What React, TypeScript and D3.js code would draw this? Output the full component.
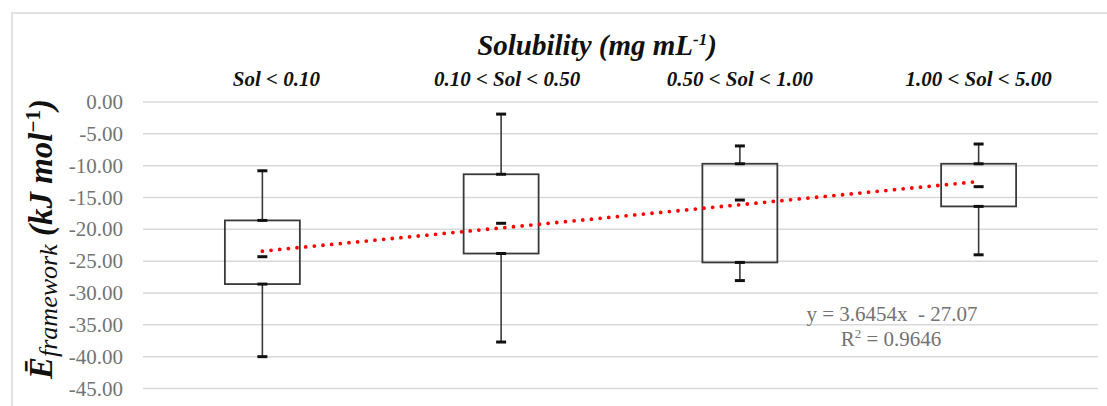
import React from "react";
import * as d3 from "d3";

const categories = ["Sol < 0.10", "0.10 < Sol < 0.50", "0.50 < Sol < 1.00", "1.00 < Sol < 5.00"];
const whiskerMax = [-10.8, -1.9, -6.9, -6.6];
const q3 = [-18.6, -11.35, -9.7, -9.7];
const meanVals = [-24.3, -19.05, -15.4, -13.3];
const q1 = [-28.6, -23.8, -25.2, -16.4];
const whiskerMin = [-40.0, -37.7, -28.05, -24.0];
const yTicks = [0, -5, -10, -15, -20, -25, -30, -35, -40, -45];
const trendSlope = 3.6454;
const trendIntercept = -27.07;
const eqLabel = "y = 3.6454x  - 27.07";
const r2Label = "= 0.9646";

const W = 1107;
const H = 406;
const plotLeft = 143;
const plotRight = 1098;
const yTop = 102;
const yBottom = 388.5;
const SERIF = "'Liberation Serif', 'Times New Roman', Times, serif";

export default function App() {
  const x = d3.scaleBand<string>().domain(categories).range([plotLeft, plotRight]).paddingInner(0).paddingOuter(0);
  const y = d3.scaleLinear().domain([-45, 0]).range([yBottom, yTop]);
  const bw = x.bandwidth();
  const boxW = bw * 0.314;
  const capW = 10;
  const cx = (c: string) => (x(c) as number) + bw / 2;

  const trendX = d3.scaleLinear().domain([1, categories.length]).range([cx(categories[0]), cx(categories[categories.length - 1])]);
  const trendLine = d3.line<number>().x((d) => trendX(d)).y((d) => y(trendSlope * d + trendIntercept));
  const trendPts = [1, categories.length];
  const fmt = (t: number) => d3.format(".2f")(t).replace("−", "-");

  const gray = "#737373";
  const dark = "#3a3a3a";

  return (
    <svg width={W} height={H} style={{ display: "block", position: "absolute", left: 0, top: 0 }}>
      <rect x={0} y={0} width={W} height={H} fill="#fff" />
      <rect x={12} y={13} width={W + 20} height={H + 20} fill="none" stroke="#d9d9d9" strokeWidth={1.5} />
      {/* title */}
      <text x={597} y={55} textAnchor="middle" fontFamily={SERIF} fontWeight="bold" fontStyle="italic" fontSize={29} fill="#111">
        Solubility (mg mL<tspan dy={-10} fontSize={17}>-1</tspan><tspan dy={10}>)</tspan>
      </text>
      {/* category labels */}
      {categories.map((c, i) => (
        <text key={c} x={cx(c)} dx={i === 0 ? 14 : i === 1 ? 6 : 0} y={86} textAnchor="middle" fontFamily={SERIF} fontWeight="bold" fontStyle="italic" fontSize={21} fill="#111">
          {c}
        </text>
      ))}
      {/* gridlines & ticks */}
      {yTicks.map((t) => (
        <g key={t}>
          <line x1={plotLeft} x2={plotRight} y1={y(t)} y2={y(t)} stroke="#d9d9d9" strokeWidth={1.5} />
          <text x={123} y={y(t) + 7} textAnchor="end" fontFamily={SERIF} fontSize={21} fill={gray}>
            {fmt(t)}
          </text>
        </g>
      ))}
      {/* y axis title */}
      <text transform={`translate(52, 379) rotate(-90)`} fontFamily={SERIF} fill="#111">
        <tspan fontWeight="bold" fontStyle="italic" fontSize={33}>Ē</tspan>
        <tspan fontStyle="italic" fontSize={26} dy={5}>framework</tspan>
        <tspan fontWeight="bold" fontStyle="italic" fontSize={33} dy={-5}> (kJ mol</tspan>
        <tspan fontWeight="bold" fontSize={21} dy={-12}>−1</tspan>
        <tspan fontWeight="bold" fontStyle="italic" fontSize={33} dy={12}>)</tspan>
      </text>
      {/* boxes */}
      {categories.map((c, i) => {
        const xc = cx(c);
        return (
          <g key={c}>
            <line x1={xc} x2={xc} y1={y(whiskerMax[i])} y2={y(q3[i])} stroke={dark} strokeWidth={1.6} />
            <line x1={xc} x2={xc} y1={y(q1[i])} y2={y(whiskerMin[i])} stroke={dark} strokeWidth={1.6} />
            <rect x={xc - boxW / 2} y={y(q3[i])} width={boxW} height={y(q1[i]) - y(q3[i])} fill="none" stroke={dark} strokeWidth={1.8} />
            {[whiskerMax[i], q3[i], meanVals[i], q1[i], whiskerMin[i]].map((v, k) => (
              <line key={k} x1={xc - capW / 2} x2={xc + capW / 2} y1={y(v)} y2={y(v)} stroke="#111" strokeWidth={3} />
            ))}
          </g>
        );
      })}
      {/* trendline */}
      <path d={trendLine(trendPts) as string} fill="none" stroke="#ff0000" strokeWidth={3.8} strokeLinecap="round" strokeDasharray="0 8.7" />
      {/* equation */}
      <text x={892} y={321} textAnchor="middle" fontFamily={SERIF} fontSize={21} fill={gray} style={{ whiteSpace: "pre" }}>
        {eqLabel}
      </text>
      <text x={891} y={346} textAnchor="middle" fontFamily={SERIF} fontSize={21} fill={gray}>
        R<tspan fontSize={13} dy={-8}>2</tspan><tspan dy={8}> {r2Label}</tspan>
      </text>
    </svg>
  );
}
